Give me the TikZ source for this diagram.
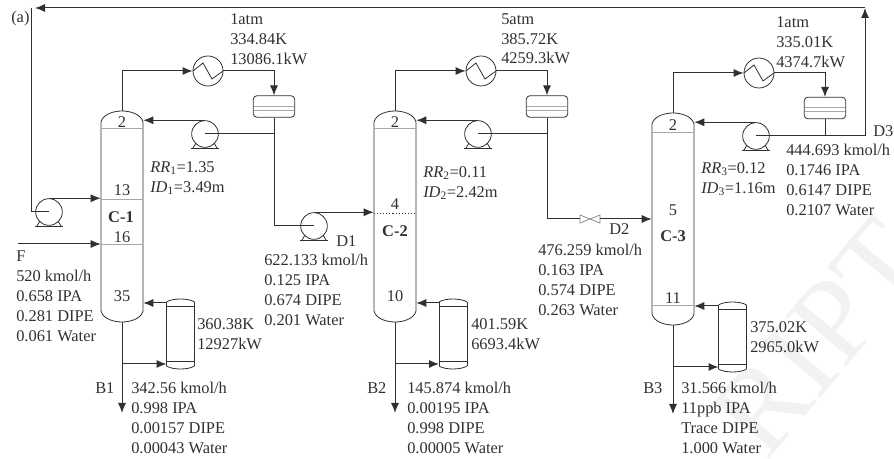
\documentclass[tikz,border=0pt]{standalone}
\usepackage{fontspec}
\setmainfont{Liberation Serif}
\usetikzlibrary{arrows.meta}
\definecolor{ink}{HTML}{303030}
\definecolor{tray}{HTML}{A8A8A8}
\tikzset{
  flow/.style={draw=ink,line width=0.75pt,-{Latex[length=7.5pt,width=6pt]}},
  pipe/.style={draw=ink,line width=0.75pt},
  unitline/.style={draw=ink,line width=0.6pt},
  lab/.style={anchor=north west,inner sep=0pt,align=left,text=ink,font=\fontsize{12.3}{15}\selectfont},
  num/.style={inner sep=0pt,text=ink,font=\fontsize{12.3}{15}\selectfont},
  pics/pump/.style={code={
    \node [circle,unitline,draw,minimum size=20pt,inner sep=0pt] (-c) at (0,0) {};
    \draw [unitline] (-9,-9) -- (-12,-14) (9,-9) -- (12,-14);
    \draw [unitline,line width=1pt] (-14,-14.5) -- (14,-14.5);
  }},
  pics/cond/.style={code={
    \node [circle,unitline,draw,minimum size=22.5pt,inner sep=0pt] (-c) at (0,0) {};
    \draw [unitline] (-15,0) -- (-5,8) -- (4,-8) -- (15,0);
  }},
  pics/drum/.style={code={
    \node [rectangle,unitline,draw,rounded corners=2.5pt,minimum width=31pt,minimum height=16pt,inner sep=0pt] (-c) at (0,0) {};
    \draw [draw=tray,line width=0.5pt] (-20,0.5) -- (20,0.5) (-20,-3.5) -- (20,-3.5);
  }},
  pics/reb/.style={code={
    \node [rectangle,minimum width=21pt,minimum height=52.5pt,inner sep=0pt] (-c) at (0,0) {};
    \coordinate (-ret) at (-14,31);
    \coordinate (-feed) at (-14,-30);
    \draw [unitline] (-14,-32) -- (-14,32) (14,-32) -- (14,32);
    \draw [unitline] (-14,28) -- (14,28) (-14,-27) -- (14,-27);
    \draw [unitline] (-14,32) .. controls (-8,36) and (8,36) .. (14,32);
    \draw [unitline] (-14,-32) .. controls (-8,-36) and (8,-36) .. (14,-32);
  }},
  pics/tower/.style={code={
    \node [rectangle,minimum width=31.5pt,minimum height=#1*0.75pt,inner sep=0pt] (-c) at (0,0) {};
    \draw [unitline] (-21,-#1/2+11) .. controls (-19,-#1/2+3) and (-8,-#1/2) .. (0,-#1/2)
      .. controls (8,-#1/2) and (19,-#1/2+3) .. (21,-#1/2+11) -- (21,#1/2-11)
      .. controls (19,#1/2-3) and (8,#1/2) .. (0,#1/2)
      .. controls (-8,#1/2) and (-19,#1/2-3) .. (-21,#1/2-11) -- cycle;
  }},
  pics/valve/.style={code={
    \node [rectangle,minimum width=15pt,minimum height=6pt,inner sep=0pt] (-c) at (0,0) {};
    \draw [draw=ink!60,line width=0.5pt] (-10,-4) -- (10,4) -- (10,-4) -- (-10,4) -- cycle;
  }},
}
\begin{document}
\begin{tikzpicture}[x=0.75pt,y=0.75pt,yscale=-1]
\useasboundingbox (0,0) rectangle (894,459);

% Watermark
\node [text=black!5,font=\fontsize{90}{90}\selectfont,rotate=50,inner sep=0pt] (wmark) at (820,338) {RIPT};

% Columns
\pic (C1) at (122,216.5) {tower=211};
\pic (C2) at (395,216.5) {tower=211};
\pic (C3) at (673,219) {tower=212};

% Tray lines
\draw [draw=tray,line width=0.5pt] (C1-c.west |- 0,128) -- (C1-c.east |- 0,128) (C1-c.west |- 0,199) -- (C1-c.east |- 0,199) (C1-c.west |- 0,244) -- (C1-c.east |- 0,244);
\draw [draw=tray,line width=0.5pt] (C2-c.west |- 0,128) -- (C2-c.east |- 0,128);
\draw [draw=ink,line width=0.5pt,dash pattern={on 0.84pt off 1.5pt}] (C2-c.west |- 0,213) -- (C2-c.east |- 0,213);
\draw [draw=tray,line width=0.5pt] (C3-c.west |- 0,132) -- (C3-c.east |- 0,132) (C3-c.west |- 0,305) -- (C3-c.east |- 0,305);

% Units
\pic (E1) at (208,71) {cond};
\pic (E2) at (481,71) {cond};
\pic (E3) at (759,73) {cond};
\pic (V1) at (274,106.5) {drum};
\pic (V2) at (547,106.5) {drum};
\pic (V3) at (825,108) {drum};
\pic (P1) at (205,134) {pump};
\pic (P2) at (478,134) {pump};
\pic (P3) at (756,136) {pump};
\pic (P4) at (49,212) {pump};
\pic (P5) at (314,226) {pump};
\pic (R1) at (180.5,334) {reb};
\pic (R2) at (453,334) {reb};
\pic (R3) at (732.5,337) {reb};
\pic (VLV) at (590,219) {valve};

\coordinate (topR) at (865,8);
\coordinate (topL) at (31,8);
\coordinate (topA) at (35,8);
\coordinate (feedS) at (18,244);
\coordinate (B1e) at (122,413);
\coordinate (B2e) at (395,413);
\coordinate (B3e) at (673,414);

%Straight Lines
\draw [flow] (C1-c.north) |- (E1-c.west);
\draw [flow] (E1-c.east) -| (V1-c.north);
\draw [pipe] (P1-c.center) -- (P1-c.center -| V1-c.south);
\draw [flow] (P1-c.north) -- (P1-c.north -| C1-c.east);
\draw [pipe] (V1-c.south) |- (P5-c.center);
\draw [flow] (P5-c.north) -- (P5-c.north -| C2-c.west);
\draw [flow] (P4-c.north) -- (P4-c.north -| C1-c.west);
\draw [flow] (feedS) -- (feedS -| C1-c.west);
\draw [flow] (C2-c.north) |- (E2-c.west);
\draw [flow] (E2-c.east) -| (V2-c.north);
\draw [pipe] (P2-c.center) -- (P2-c.center -| V2-c.south);
\draw [flow] (P2-c.north) -- (P2-c.north -| C2-c.east);
\draw [pipe] (V2-c.south) |- (VLV-c.west);
\draw [flow] (VLV-c.east) -- (VLV-c.east -| C3-c.west);
\draw [flow] (C3-c.north) |- (E3-c.west);
\draw [flow] (E3-c.east) -| (V3-c.north);
\draw [pipe] (V3-c.south) -- (V3-c.south |- P3-c.center);
\draw [flow] (P3-c.north) -- (P3-c.north -| C3-c.east);
\draw [flow] (P3-c.center) -| (topR);
\draw [flow] (topR) -- (topA);
\draw [pipe] (topL) |- (P4-c.center);
% Bottoms
\draw [flow] (C1-c.south) -- (B1e);
\draw [flow] (C2-c.south) -- (B2e);
\draw [flow] (C3-c.south) -- (B3e);
\draw [flow] (R1-ret) -- (R1-ret -| C1-c.east);
\draw [flow] (R2-ret) -- (R2-ret -| C2-c.east);
\draw [flow] (R3-ret) -- (R3-ret -| C3-c.east);
\draw [flow] (R1-feed -| C1-c.south) -- (R1-feed);
\draw [flow] (R2-feed -| C2-c.south) -- (R2-feed);
\draw [flow] (R3-feed -| C3-c.south) -- (R3-feed);

% Text Node
\node [lab] (lblA) at (11,11) {(a)};
\node [lab] (lblE1) at (230,13) {1atm\\334.84K\\13086.1kW};
\node [lab] (lblE2) at (501,13) {5atm\\385.72K\\4259.3kW};
\node [lab] (lblE3) at (776,16) {1atm\\335.01K\\4374.7kW};
\node [lab] (lblC1) at (150,161) {\textit{RR}\textsubscript{1}=1.35\\\textit{ID}\textsubscript{1}=3.49m};
\node [lab] (lblC2) at (423,166) {\textit{RR}\textsubscript{2}=0.11\\\textit{ID}\textsubscript{2}=2.42m};
\node [lab] (lblC3) at (701,162) {\textit{RR}\textsubscript{3}=0.12\\\textit{ID}\textsubscript{3}=1.16m};
\node [lab] (lblF) at (16,250) {F\\520 kmol/h\\0.658 IPA\\0.281 DIPE\\0.061 Water};
\node [lab] (lblD1n) at (336,235) {D1};
\node [lab] (lblD1) at (264,254) {622.133 kmol/h\\0.125 IPA\\0.674 DIPE\\0.201 Water};
\node [lab] (lblD2n) at (609,223) {D2};
\node [lab] (lblD2) at (538,244) {476.259 kmol/h\\0.163 IPA\\0.574 DIPE\\0.263 Water};
\node [lab] (lblD3n) at (873,125) {D3};
\node [lab] (lblD3) at (786,144) {444.693 kmol/h\\0.1746 IPA\\0.6147 DIPE\\0.2107 Water};
\node [lab] (lblR1) at (197,318) {360.38K\\12927kW};
\node [lab] (lblR2) at (471,318) {401.59K\\6693.4kW};
\node [lab] (lblR3) at (750,321) {375.02K\\2965.0kW};
\node [lab] (lblB1n) at (95,382) {B1};
\node [lab] (lblB2n) at (367,382) {B2};
\node [lab] (lblB3n) at (643,382) {B3};
\node [lab] (lblB1) at (131,382) {342.56 kmol/h\\0.998 IPA\\0.00157 DIPE\\0.00043 Water};
\node [lab] (lblB2) at (407,382) {145.874 kmol/h\\0.00195 IPA\\0.998 DIPE\\0.00005 Water};
\node [lab] (lblB3) at (681,382) {31.566 kmol/h\\11ppb IPA\\Trace DIPE\\1.000 Water};
% Tray numbers
\node [num] (t12) at (122,122) {2};
\node [num] (t113) at (122,190) {13};
\node [num,font=\fontsize{12.3}{15}\selectfont\bfseries] (nC1) at (121,217) {C-1};
\node [num] (t116) at (122,237) {16};
\node [num] (t135) at (122,296) {35};
\node [num] (t22) at (395,122) {2};
\node [num] (t24) at (395,204) {4};
\node [num,font=\fontsize{12.3}{15}\selectfont\bfseries] (nC2) at (395,231) {C-2};
\node [num] (t210) at (395,296) {10};
\node [num] (t32) at (673,125) {2};
\node [num] (t35) at (673,210) {5};
\node [num,font=\fontsize{12.3}{15}\selectfont\bfseries] (nC3) at (673,236) {C-3};
\node [num] (t311) at (673,298) {11};

\end{tikzpicture}
\end{document}
